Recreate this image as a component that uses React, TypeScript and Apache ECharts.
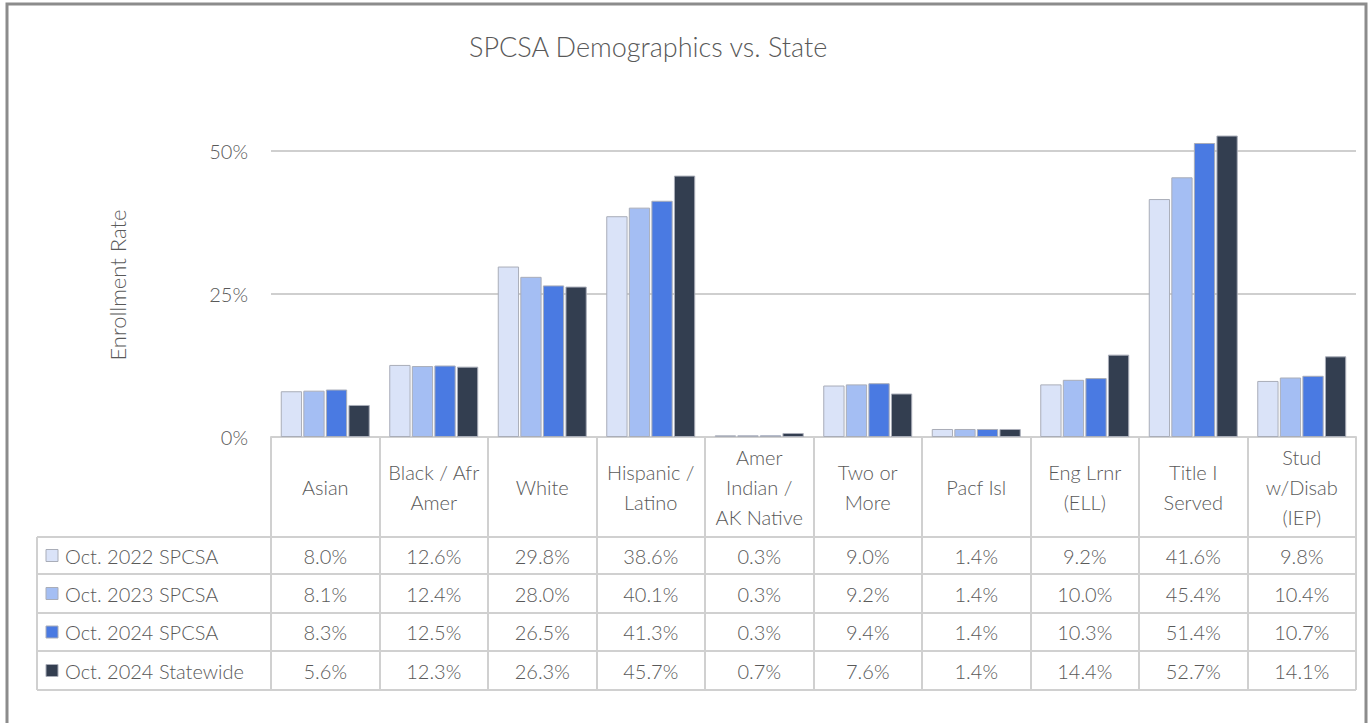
import React, { useEffect, useRef } from "react";
import * as echarts from "echarts";

const categories = [
  "Asian",
  "Black / Afr\nAmer",
  "White",
  "Hispanic /\nLatino",
  "Amer\nIndian /\nAK Native",
  "Two or\nMore",
  "Pacf Isl",
  "Eng Lrnr\n(ELL)",
  "Title I\nServed",
  "Stud\nw/Disab\n(IEP)",
];
const seriesNames = ["Oct. 2022 SPCSA", "Oct. 2023 SPCSA", "Oct. 2024 SPCSA", "Oct. 2024 Statewide"];
const oct2022 = [8.0, 12.6, 29.8, 38.6, 0.3, 9.0, 1.4, 9.2, 41.6, 9.8];
const oct2023 = [8.1, 12.4, 28.0, 40.1, 0.3, 9.2, 1.4, 10.0, 45.4, 10.4];
const oct2024 = [8.3, 12.5, 26.5, 41.3, 0.3, 9.4, 1.4, 10.3, 51.4, 10.7];
const statewide = [5.6, 12.3, 26.3, 45.7, 0.7, 7.6, 1.4, 14.4, 52.7, 14.1];
const seriesValues = [oct2022, oct2023, oct2024, statewide];
const seriesColors = ["#DAE3F8", "#A4BEF3", "#4A7AE2", "#333E50"];
const yMin = 0;
const yMax = 50;
const yInterval = 25;

const FONT = "Lato";
const WEIGHT = 300;
const TEXT = "#595959";
const TABLE_LINE = "#d0d0d0";

export default function App() {
  const ref = useRef<HTMLDivElement>(null);
  useEffect(() => {
    const chart = echarts.init(ref.current!, null, { renderer: "svg" });
    const gridLeft = 271;
    const gridRight = 12;
    const axisY = 437;
    chart.setOption({
      animation: false,
      title: {
        text: "SPCSA Demographics vs. State",
        left: 464,
        top: 28,
        textStyle: { fontFamily: FONT, fontSize: 27, fontWeight: WEIGHT, color: TEXT },
      },
      grid: { left: gridLeft, right: gridRight, top: 151, bottom: 723 - axisY },
      xAxis: {
        type: "category",
        data: categories,
        axisLine: { lineStyle: { color: TABLE_LINE, width: 2 } },
        axisTick: { show: true, length: 253, interval: 0, lineStyle: { color: TABLE_LINE, width: 2 } },
        axisLabel: {
          interval: 0,
          margin: 50,
          verticalAlign: "middle",
          lineHeight: 30,
          fontSize: 20,
          fontWeight: WEIGHT,
          color: TEXT,
          fontFamily: FONT,
        },
      },
      yAxis: {
        type: "value",
        min: yMin,
        max: yMax,
        interval: yInterval,
        axisLabel: {
          formatter: "{value}%",
          margin: 23,
          fontFamily: FONT,
          fontSize: 20,
          fontWeight: WEIGHT,
          color: TEXT,
        },
        axisLine: { show: false },
        axisTick: { show: false },
        splitLine: { lineStyle: { color: "#bfbfbf", width: 1.5 } },
      },
      series: seriesValues.map((d, i) => ({
        type: "bar",
        name: seriesNames[i],
        data: d,
        clip: false,
        barGap: "6%",
        barCategoryGap: "18%",
        itemStyle: { color: seriesColors[i], borderColor: "#a9adb8", borderWidth: 1 },
      })),
    });

    const rowLines = [537, 574, 613, 651, 690];
    const tableLeft = 37;
    const tableRight = 1368 - gridRight;
    const elements: any[] = [
      {
        type: "rect",
        shape: { x: 7, y: 4, width: 1359, height: 740 },
        style: { fill: "none", stroke: "#8c8c8c", lineWidth: 3 },
        silent: true,
      },
      {
        type: "text",
        x: 117,
        y: 285,
        rotation: Math.PI / 2,
        style: {
          text: "Enrollment Rate",
          x: 0,
          y: 0,
          fill: TEXT,
          fontFamily: FONT,
          fontSize: 22,
          fontWeight: WEIGHT,
          align: "center",
          verticalAlign: "middle",
        },
        silent: true,
      },
      {
        type: "line",
        shape: { x1: tableLeft, y1: rowLines[0], x2: tableLeft, y2: rowLines[rowLines.length - 1] },
        style: { stroke: TABLE_LINE, lineWidth: 2 },
        silent: true,
      },
    ];
    rowLines.forEach((y) => {
      elements.push({
        type: "line",
        shape: { x1: tableLeft, y1: y, x2: tableRight, y2: y },
        style: { stroke: TABLE_LINE, lineWidth: 2 },
        silent: true,
      });
    });
    seriesValues.forEach((vals, i) => {
      const cy = (rowLines[i] + rowLines[i + 1]) / 2;
      elements.push({
        type: "rect",
        shape: { x: 46, y: cy - 6, width: 12, height: 12 },
        style: { fill: seriesColors[i], stroke: "#a9adb8", lineWidth: 1 },
        silent: true,
      });
      elements.push({
        type: "text",
        style: {
          text: seriesNames[i],
          x: 65,
          y: cy,
          fill: TEXT,
          fontFamily: FONT,
          fontSize: 20,
          fontWeight: WEIGHT,
          align: "left",
          verticalAlign: "middle",
        },
        silent: true,
      });
      vals.forEach((v, j) => {
        const x = chart.convertToPixel({ xAxisIndex: 0 }, j) as number;
        elements.push({
          type: "text",
          style: {
            text: v.toFixed(1) + "%",
            x,
            y: cy,
            fill: TEXT,
            fontFamily: FONT,
            fontSize: 20,
            fontWeight: WEIGHT,
            align: "center",
            verticalAlign: "middle",
          },
          silent: true,
        });
      });
    });
    chart.setOption({ graphic: { elements } });

    return () => chart.dispose();
  }, []);
  return (
    <div
      ref={ref}
      style={{ position: "fixed", left: 0, top: 0, width: 1368, height: 723, background: "#ffffff" }}
    />
  );
}
